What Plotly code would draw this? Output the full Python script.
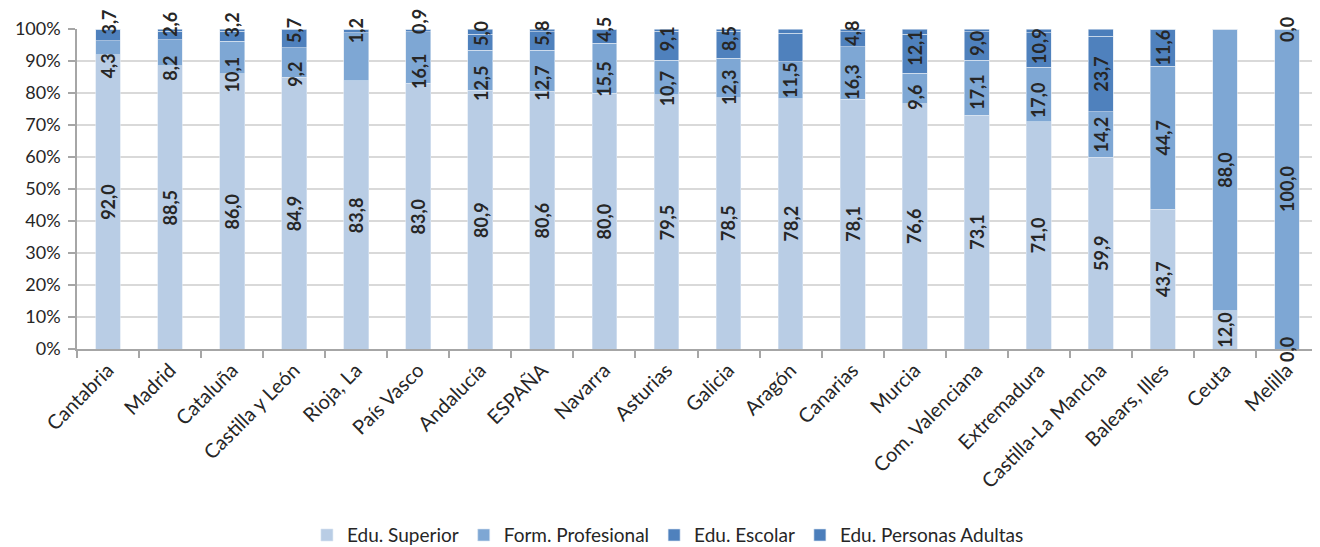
import plotly.graph_objects as go

# Comunidades, ordered as in the chart
regions = ["Cantabria", "Madrid", "Cataluña", "Castilla y León", "Rioja, La", "País Vasco",
           "Andalucía", "ESPAÑA", "Navarra", "Asturias", "Galicia", "Aragón", "Canarias",
           "Murcia", "Com. Valenciana", "Extremadura", "Castilla-La Mancha", "Balears, Illes",
           "Ceuta", "Melilla"]

edu_superior = [92.0, 88.5, 86.0, 84.9, 83.8, 83.0, 80.9, 80.6, 80.0, 79.5,
                78.5, 78.2, 78.1, 76.6, 73.1, 71.0, 59.9, 43.7, 12.0, 0.0]
form_profesional = [4.3, 8.2, 10.1, 9.2, 15.0, 16.1, 12.5, 12.7, 15.5, 10.7,
                    12.3, 11.5, 16.3, 9.6, 17.1, 17.0, 14.2, 44.7, 88.0, 100.0]
edu_escolar = [3.7, 2.6, 3.2, 5.7, 1.2, 0.9, 5.0, 5.8, 4.5, 9.1,
               8.5, 9.0, 4.8, 12.1, 9.0, 10.9, 23.7, 11.6, 0.0, 0.0]
edu_adultas = [0.0, 0.7, 0.7, 0.2, 0.0, 0.0, 1.6, 0.9, 0.0, 0.7,
               0.7, 1.3, 0.8, 1.7, 0.8, 1.1, 2.2, 0.0, 0.0, 0.0]

series = [
    ("Edu. Superior", edu_superior, "#B9CDE5"),
    ("Form. Profesional", form_profesional, "#7EA7D4"),
    ("Edu. Escolar", edu_escolar, "#4F81BD"),
    ("Edu. Personas Adultas", edu_adultas, "#4B7EBB"),
]

# data labels shown in the original (adult-education labels are not shown)
labelled = ["Edu. Superior", "Form. Profesional", "Edu. Escolar"]
hidden_labels = [("Form. Profesional", "Rioja, La"), ("Edu. Escolar", "Aragón"),
                 ("Edu. Escolar", "Ceuta")]

FONT = "Lato"
Y_MAX = 100
fig = go.Figure()
for name, vals, color in series:
    fig.add_trace(go.Bar(
        x=regions, y=vals, name=name,
        marker=dict(color=color, line=dict(color="#DCE6F2", width=0.6)),
        hoverinfo="x+y+name",
    ))

# label placement: centre of each segment, then push overlapping labels apart
px_per_pct = 320 / Y_MAX


def label_len(txt):
    # rough rotated length in % units (digits ~10px, comma ~5px, + padding)
    w = sum(5 if c == "," else 10.4 for c in txt) + 18
    return w / px_per_pct


annotations = []
for i, reg in enumerate(regions):
    base = 0.0
    labs = []
    for name, vals, color in series:
        v = vals[i]
        if name in labelled and (name, reg) not in hidden_labels:
            txt = f"{v:.1f}".replace(".", ",")
            labs.append([base + v / 2, label_len(txt), txt])
        base += v
    for _ in range(20):
        for a, b in zip(labs, labs[1:]):
            ov = (a[0] + a[1] / 2) - (b[0] - b[1] / 2)
            if ov > 0:
                a[0] -= ov * 0.6
                b[0] += ov * 0.4
    for yc, _, txt in labs:
        # "y domain" so labels pushed above 100% are still drawn
        annotations.append(dict(
            x=reg, y=yc / Y_MAX, xref="x", yref="y domain", text=f"<b>{txt}</b>",
            textangle=-90, showarrow=False,
            font=dict(family=FONT, size=18, color="#262626"),
            xanchor="center", yanchor="middle",
        ))

# the page body keeps its default 8px margin, so the figure is sized to fit inside it
fig.update_layout(
    barmode="stack",
    bargap=0.6,
    width=1312, height=539,
    margin=dict(l=69, r=2, t=21, b=198),
    plot_bgcolor="white", paper_bgcolor="white",
    font=dict(family=FONT, color="#262626"),
    annotations=annotations,
    showlegend=True,
    legend=dict(
        orientation="h", xref="container", yref="container",
        x=0.503, y=0.022, xanchor="center", yanchor="middle",
        font=dict(family=FONT, size=19, color="#262626"),
        itemwidth=30, traceorder="normal",
    ),
)
fig.update_xaxes(
    showline=True, linecolor="#A6A6A6", linewidth=1.5,
    ticks="outside", tickson="boundaries", ticklen=7, tickcolor="#A6A6A6", tickwidth=1.5,
    tickangle=-45, tickfont=dict(family=FONT, size=20, color="#262626"),
    showgrid=False, automargin=False,
)
fig.update_yaxes(
    range=[0, Y_MAX], dtick=10, ticksuffix="%",
    showline=True, linecolor="#A6A6A6", linewidth=1.5,
    ticks="outside", ticklen=7, tickcolor="#A6A6A6", tickwidth=1.5,
    tickfont=dict(family=FONT, size=18, color="#262626"), ticklabelstandoff=4,
    showgrid=True, gridcolor="#D9D9D9", gridwidth=1.5,
    zeroline=False, automargin=False,
)

fig.write_html("out.html")
